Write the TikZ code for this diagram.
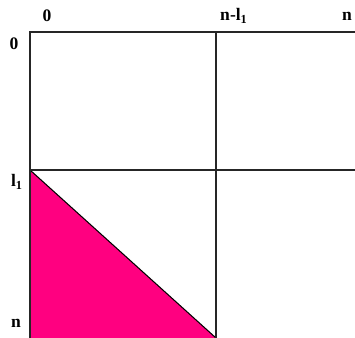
\documentclass[tikz,border=0pt]{standalone}
\usepackage{fontspec}
\setmainfont{Liberation Serif}
\usetikzlibrary{positioning}
\definecolor{rosepink}{RGB}{255,0,128}
\tikzset{
  gridline/.style={line width=1.1pt, black!85},
  lbl/.style={font=\bfseries, inner sep=0pt},
}

\begin{document}
\begin{tikzpicture}[x=0.02cm, y=-0.02cm]

    \useasboundingbox (0,0) rectangle (355,338);

    %%%%%%%%%%%%%%%%%%
    %%%%% Points %%%%%
    %%%%%%%%%%%%%%%%%%
    \coordinate (O) at (30,32);
    \coordinate (M) at (216,32);
    \coordinate (R) at (355,32);
    \coordinate (L) at (30,170);
    \coordinate (LR) at (355,170);
    \coordinate (B) at (30,338);
    \coordinate (BM) at (216,338);

    % Fill the triangle
    \fill[rosepink] (L) -- (B) -- (BM) -- cycle;
    \draw[line width=0.6pt] (L) -- (BM);

    % Draw the grid
    \draw[gridline] (R) -- (O) -- (B);
    \draw[gridline] (M) -- (BM);
    \draw[gridline] (L) -- (LR);

    %%%%%%%%%%%%%%%%%%
    %%%%% Labels %%%%%
    %%%%%%%%%%%%%%%%%%
    \node[lbl] (top0) at (47,16) {0};
    \node[lbl] (topm) at (234,16) {n-l$_{\mathbf 1}$};
    \node[lbl] (topn) at (347,16) {n};
    \node[lbl] (left0) at (14,44) {0};
    \node[lbl] (leftl) at (17,182) {l$_{\mathbf 1}$};
    \node[lbl] (leftn) at (16,323) {n};

\end{tikzpicture}
\end{document}
